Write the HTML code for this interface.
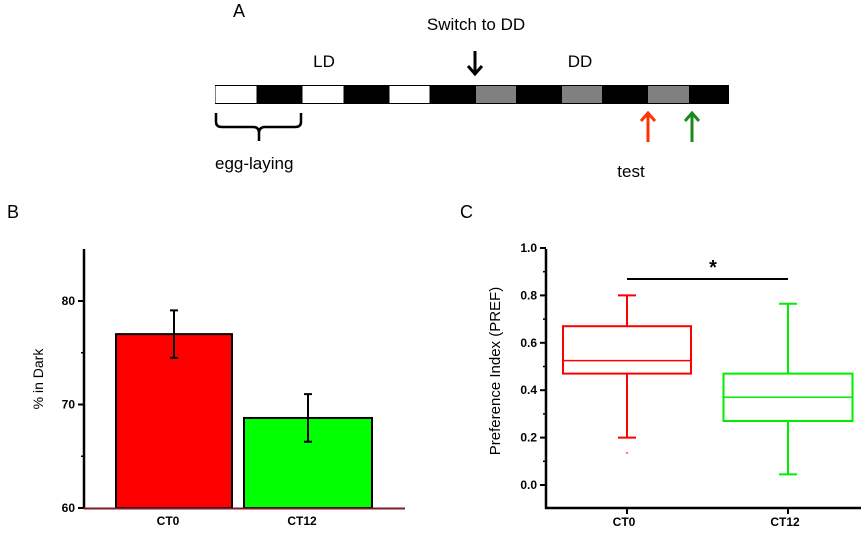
<!DOCTYPE html>
<html><head><meta charset="utf-8"><style>
html,body{margin:0;padding:0;background:#fff;}
svg{display:block;font-family:"Liberation Sans",Arial,sans-serif;}
</style></head><body>
<svg id="fig" width="861" height="534" viewBox="0 0 861 534">
<!-- Panel A -->
<g>
<text x="233" y="17" font-size="18">A</text>
<text x="476" y="30" font-size="17" text-anchor="middle">Switch to DD</text>
<text x="324" y="67" font-size="17" text-anchor="middle">LD</text>
<text x="580" y="67" font-size="17" text-anchor="middle">DD</text>
<g id="timeline"></g>
<g stroke="#000" stroke-width="3" fill="none">
<line x1="475" y1="51" x2="475" y2="74"/><polyline points="468,66 475,74 482,66"/></g>
<g stroke="#ff3300" stroke-width="3" fill="none">
<line x1="648" y1="113" x2="648" y2="142"/><polyline points="641,121 648,113 655,121"/></g>
<g stroke="#1a8a1a" stroke-width="3" fill="none">
<line x1="692" y1="113" x2="692" y2="142"/><polyline points="685,121 692,113 699,121"/></g>
<path d="M216,113 L216,122 Q216,127 222,127 L253,127 Q259,127 259,133 L259,141 L259,133 Q259,127 265,127 L295,127 Q301,127 301,122 L301,113" stroke="#000" stroke-width="2.5" fill="none"/>
<text x="215" y="169" font-size="17">egg-laying</text>
<text x="631" y="177" font-size="17" text-anchor="middle">test</text>
</g>
<!-- Panel B -->
<g id="panelB">
<text x="7" y="218" font-size="18">B</text>
</g>
<!-- Panel C -->
<g id="panelC">
<text x="460" y="218" font-size="18">C</text>
</g>
</svg>
<script>
const NS="http://www.w3.org/2000/svg";
function mk(p,t,a){const e=document.createElementNS(NS,t);for(const k in a)e.setAttribute(k,a[k]);p.appendChild(e);return e;}

// Timeline
const segColors=["#fff","#000","#fff","#000","#fff","#000","#808080","#000","#808080","#000","#808080","#000"];
const segEdges=[215,257,302,344,389,430,476,516,562,602,648,689,729];
const tl=document.getElementById('timeline');
mk(tl,'rect',{x:215,y:85,width:514,height:19,fill:'#000'});
segColors.forEach((c,i)=>{
  const r=mk(tl,'rect',{x:segEdges[i]+(c=='#fff'?0.5:0),y:86,width:segEdges[i+1]-segEdges[i]-(c=='#fff'?1:0),height:17,fill:c});
  
  
});

// Panel B data
const bCats=["CT0","CT12"];
const bMeans=[76.8,68.7];
const bErr=[2.3,2.3];
const bTicks=[60,70,80];
const bColors=["#ff0000","#00ff00"];
const gB=document.getElementById('panelB');
const bY=v=>508-(v-60)*10.35;
const bX0=[116,244], bW=[116,128];
mk(gB,'line',{x1:84,y1:249,x2:84,y2:509,stroke:'#000','stroke-width':2.5});
bTicks.forEach(t=>{
  mk(gB,'line',{x1:78,y1:bY(t),x2:84,y2:bY(t),stroke:'#000','stroke-width':2});
  const tx=mk(gB,'text',{x:75,y:bY(t)+4,'font-size':12,'font-weight':'bold','text-anchor':'end'});tx.textContent=t;
  
  
});
[65,75].forEach(t=>mk(gB,'line',{x1:81,y1:bY(t),x2:84,y2:bY(t),stroke:'#000','stroke-width':1.5}));
const yl=mk(gB,'text',{x:0,y:0,'font-size':14,'text-anchor':'middle',transform:'translate(43,379) rotate(-90)'});yl.textContent='% in Dark';


bCats.forEach((c,i)=>{
  const top=bY(bMeans[i]);
  const r=mk(gB,'rect',{x:bX0[i],y:top,width:bW[i],height:508-top,fill:bColors[i],stroke:'#000','stroke-width':2});
  
  
  const cx=bX0[i]+bW[i]/2;
  const eb=mk(gB,'path',{d:`M${cx},${bY(bMeans[i]+bErr[i])}V${bY(bMeans[i]-bErr[i])}M${cx-4},${bY(bMeans[i]+bErr[i])}h8M${cx-4},${bY(bMeans[i]-bErr[i])}h8`,stroke:'#000','stroke-width':2,fill:'none'});
  
  
  const lt=mk(gB,'text',{x:cx-6,y:525,'font-size':12,'font-weight':'bold','text-anchor':'middle'});lt.textContent=c;
  
  
});
mk(gB,'line',{x1:84,y1:508.5,x2:405,y2:508.5,stroke:'#7a1c2c','stroke-width':2});

// Panel C data
const cCats=["CT0","CT12"];
const cWhiskLo=[0.2,0.045];
const cQ1=[0.47,0.27];
const cMed=[0.525,0.37];
const cQ3=[0.67,0.47];
const cWhiskHi=[0.8,0.765];
const cOutliers=[0.135,null];
const cTicks=[0.0,0.2,0.4,0.6,0.8,1.0];
const cColors=["#ff0000","#00ee00"];
const gC=document.getElementById('panelC');
const cY=v=>485-v*237;
const cXc=[627,788], cBW=[128,129];
mk(gC,'line',{x1:546,y1:249,x2:546,y2:509,stroke:'#000','stroke-width':2.5});
mk(gC,'line',{x1:545,y1:508,x2:861,y2:508,stroke:'#000','stroke-width':2.5});
cTicks.forEach(t=>{
  mk(gC,'line',{x1:540,y1:cY(t),x2:546,y2:cY(t),stroke:'#000','stroke-width':2});
  const tx=mk(gC,'text',{x:537,y:cY(t)+4,'font-size':12,'font-weight':'bold','text-anchor':'end'});tx.textContent=t.toFixed(1);
  
  
});
[0.1,0.3,0.5,0.7,0.9].forEach(t=>mk(gC,'line',{x1:543,y1:cY(t),x2:546,y2:cY(t),stroke:'#000','stroke-width':1.5}));
const yl2=mk(gC,'text',{x:0,y:0,'font-size':15,'text-anchor':'middle',transform:'translate(500,371) rotate(-90)'});yl2.textContent='Preference Index (PREF)';


cCats.forEach((c,i)=>{
  const cx=cXc[i],w=cBW[i],col=cColors[i];
  const g=mk(gC,'g',{});
  
  
  mk(g,'line',{x1:cx,y1:cY(cWhiskHi[i]),x2:cx,y2:cY(cQ3[i]),stroke:col,'stroke-width':2});
  mk(g,'line',{x1:cx,y1:cY(cQ1[i]),x2:cx,y2:cY(cWhiskLo[i]),stroke:col,'stroke-width':2});
  mk(g,'line',{x1:cx-9,y1:cY(cWhiskHi[i]),x2:cx+9,y2:cY(cWhiskHi[i]),stroke:col,'stroke-width':2});
  mk(g,'line',{x1:cx-9,y1:cY(cWhiskLo[i]),x2:cx+9,y2:cY(cWhiskLo[i]),stroke:col,'stroke-width':2});
  mk(g,'rect',{x:cx-w/2,y:cY(cQ3[i]),width:w,height:cY(cQ1[i])-cY(cQ3[i]),fill:'none',stroke:col,'stroke-width':2});
  mk(g,'line',{x1:cx-w/2,y1:cY(cMed[i]),x2:cx+w/2,y2:cY(cMed[i]),stroke:col,'stroke-width':1.5});
  if(cOutliers[i]!==null){
    const o=mk(g,'circle',{cx:cx,cy:cY(cOutliers[i]),r:1.2,fill:'#ff8080'});
    
    
  }
  mk(gC,'line',{x1:cx,y1:508,x2:cx,y2:514,stroke:'#000','stroke-width':2});
  const lt=mk(gC,'text',{x:cx-3,y:526,'font-size':12,'font-weight':'bold','text-anchor':'middle'});lt.textContent=c;
  
  
});
const sb=mk(gC,'line',{x1:627,y1:279,x2:788,y2:279,stroke:'#000','stroke-width':2});


const st=mk(gC,'text',{x:713,y:274,'font-size':20,'font-weight':'bold','text-anchor':'middle'});st.textContent='*';


</script>
</body></html>
